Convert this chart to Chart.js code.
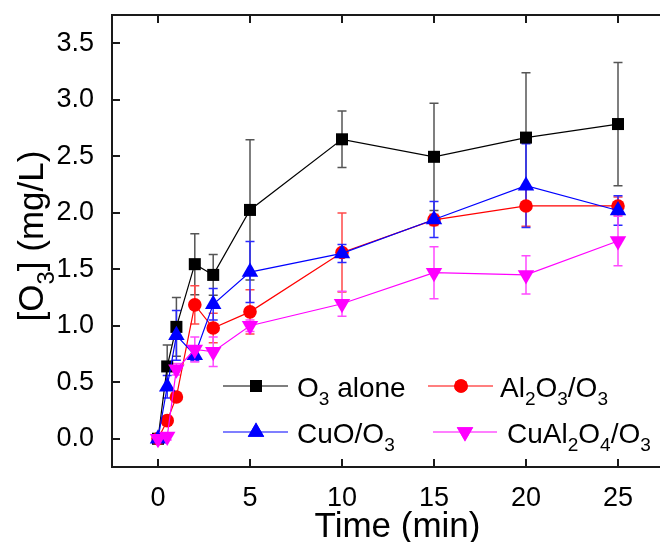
<!DOCTYPE html>
<html>
<head>
<meta charset="utf-8">
<script src="https://cdn.jsdelivr.net/npm/chart.js@4.4.1/dist/chart.umd.min.js"></script>
<style>
html,body{margin:0;padding:0;overflow:hidden;background:#fff;width:660px;height:542px;}
canvas{display:block;}
</style>
</head>
<body>
<canvas id="c" width="664" height="542"></canvas>
<script>
// ---- data ----
const times = [0, 0.5, 1, 2, 3, 5, 10, 15, 20, 25];

const o3Alone    = [0, 0.64, 0.99, 1.545, 1.45, 2.025, 2.65, 2.495, 2.665, 2.785];
const o3AloneErr = [0, 0.19, 0.26, 0.27, 0.18, 0.62, 0.25, 0.475, 0.575, 0.545];

const al2o3    = [0, 0.16, 0.37, 1.185, 0.98, 1.123, 1.648, 1.937, 2.06, 2.06];
const al2o3Err = [0, 0.04, 0.04, 0.17, 0.13, 0.195, 0.35, 0.05, 0.18, 0.08];

const cuo    = [0, 0.46, 0.915, 0.74, 1.19, 1.475, 1.64, 1.94, 2.24, 2.02];
const cuoErr = [0, 0.10, 0.22, 0.05, 0.14, 0.27, 0.08, 0.16, 0.37, 0.13];

const cual2o4    = [0, 0.02, 0.615, 0.79, 0.77, 1.0, 1.195, 1.47, 1.45, 1.75];
const cual2o4Err = [0, 0.03, 0.05, 0.11, 0.13, 0.05, 0.11, 0.23, 0.17, 0.22];

const xTicks = [0, 5, 10, 15, 20, 25];
const yTicks = [0, 0.5, 1.0, 1.5, 2.0, 2.5, 3.0, 3.5];

const xTitle = "Time (min)";
const yTitleParts = [["[O"], ["3", "sub"], ["] (mg/L)"]];
const legendParts = [
  [["O"], ["3", "sub"], [" alone"]],
  [["Al"], ["2", "sub"], ["O"], ["3", "sub"], ["/O"], ["3", "sub"]],
  [["CuO/O"], ["3", "sub"]],
  [["CuAl"], ["2", "sub"], ["O"], ["4", "sub"], ["/O"], ["3", "sub"]]
];

const FONT = "'Liberation Sans', Arial, Helvetica, sans-serif";

function pts(vals) { return times.map((t, i) => ({x: t, y: vals[i]})); }

const series = [
  {label: "O3 alone", data: pts(o3Alone), err: o3AloneErr, color: "#000000", errColor: "#555555", style: "rect", radius: 8.5, rot: 0, order: 3},
  {label: "Al2O3/O3", data: pts(al2o3), err: al2o3Err, color: "#ff0000", errColor: "#ff4a4a", style: "circle", radius: 6.8, rot: 0, order: 2},
  {label: "CuO/O3", data: pts(cuo), err: cuoErr, color: "#0000ff", errColor: "#2a2aff", style: "triangle", radius: 9.5, rot: 0, order: 1},
  {label: "CuAl2O4/O3", data: pts(cual2o4), err: cual2o4Err, color: "#ff00ff", errColor: "#ff4aff", style: "triangle", radius: 9.5, rot: 180, order: 0}
];

function drawRich(ctx, parts, x, y, size) {
  let cx = x;
  for (const p of parts) {
    const sub = p[1] === "sub";
    const fs = sub ? size * 0.68 : size;
    ctx.font = fs + "px " + FONT;
    ctx.fillText(p[0], cx, sub ? y + size * 0.32 : y);
    cx += ctx.measureText(p[0]).width;
  }
  return cx - x;
}
function richWidth(ctx, parts, size) {
  let w = 0;
  for (const p of parts) {
    const sub = p[1] === "sub";
    ctx.font = (sub ? size * 0.68 : size) + "px " + FONT;
    w += ctx.measureText(p[0]).width;
  }
  return w;
}

const errorBars = {
  id: "errorBars",
  beforeDatasetsDraw(chart) {
    const ctx = chart.ctx, xs = chart.scales.x, ys = chart.scales.y;
    ctx.save();
    ctx.lineWidth = 1.5;
    series.forEach((s) => {
      ctx.strokeStyle = s.errColor;
      s.data.forEach((p, i) => {
        const e = s.err[i];
        if (!e) return;
        const px = xs.getPixelForValue(p.x);
        const y1 = ys.getPixelForValue(p.y - e);
        const y2 = ys.getPixelForValue(p.y + e);
        ctx.beginPath();
        ctx.moveTo(px, y1); ctx.lineTo(px, y2);
        ctx.moveTo(px - 4.5, y1); ctx.lineTo(px + 4.5, y1);
        ctx.moveTo(px - 4.5, y2); ctx.lineTo(px + 4.5, y2);
        ctx.stroke();
      });
    });
    ctx.restore();
  }
};

const frame = {
  id: "frame",
  afterDraw(chart) {
    const ctx = chart.ctx, a = chart.chartArea, xs = chart.scales.x, ys = chart.scales.y;
    ctx.save();
    ctx.strokeStyle = "#1a1a1a";
    ctx.lineWidth = 2;
    ctx.strokeRect(a.left, a.top, a.right - a.left, a.bottom - a.top);
    ctx.beginPath();
    xTicks.forEach(v => {
      const px = Math.round(xs.getPixelForValue(v));
      ctx.moveTo(px, a.bottom); ctx.lineTo(px, a.bottom - 8);
      ctx.moveTo(px, a.top); ctx.lineTo(px, a.top + 8);
    });
    yTicks.forEach(v => {
      const py = Math.round(ys.getPixelForValue(v));
      ctx.moveTo(a.left, py); ctx.lineTo(a.left + 8, py);
    });
    ctx.stroke();

    // axis titles
    ctx.fillStyle = "#000";
    ctx.textBaseline = "alphabetic";
    ctx.textAlign = "left";
    ctx.font = "35px " + FONT;
    const tw = ctx.measureText(xTitle).width;
    ctx.fillText(xTitle, 397.5 - tw / 2, 537);

    ctx.save();
    ctx.translate(42.5, 236);
    ctx.rotate(-Math.PI / 2);
    const yw = richWidth(ctx, yTitleParts, 35);
    drawRich(ctx, yTitleParts, -yw / 2, 0, 35);
    ctx.restore();

    // legend
    const items = [
      {s: series[0], x1: 223, x2: 288, mx: 256, y: 386, tx: 297, parts: legendParts[0]},
      {s: series[1], x1: 428, x2: 493, mx: 461, y: 386, tx: 500, parts: legendParts[1]},
      {s: series[2], x1: 223, x2: 288, mx: 256, y: 432, tx: 297, parts: legendParts[2]},
      {s: series[3], x1: 433, x2: 497, mx: 465, y: 432, tx: 507, parts: legendParts[3]}
    ];
    items.forEach(it => {
      ctx.strokeStyle = it.s.color;
      ctx.lineWidth = 1.2;
      ctx.beginPath();
      ctx.moveTo(it.x1, it.y); ctx.lineTo(it.x2, it.y);
      ctx.stroke();
      ctx.fillStyle = it.s.color;
      Chart.helpers.drawPoint(ctx, {pointStyle: it.s.style, radius: it.s.radius, rotation: it.s.rot, borderWidth: 0}, it.mx, it.y);
      ctx.fill();
      ctx.fillStyle = "#000";
      drawRich(ctx, it.parts, it.tx, it.y + 10.5, 28);
    });
    ctx.restore();
  }
};

new Chart(document.getElementById("c"), {
  type: "line",
  data: {
    datasets: series.map(s => ({
      label: s.label,
      data: s.data,
      borderColor: s.color,
      backgroundColor: s.color,
      borderWidth: 1.2,
      tension: 0,
      pointStyle: s.style,
      pointRadius: s.radius,
      pointRotation: s.rot,
      pointBorderWidth: 0,
      pointBackgroundColor: s.color,
      pointBorderColor: s.color,
      order: s.order,
      clip: false
    }))
  },
  options: {
    responsive: false,
    animation: false,
    devicePixelRatio: 1,
    layout: {autoPadding: false, padding: {top: 15, right: 0, left: 0, bottom: 0}},
    plugins: {legend: {display: false}, tooltip: {enabled: false}},
    scales: {
      x: {
        type: "linear",
        min: -2.5, max: 27.5,
        grid: {display: false},
        border: {display: false},
        afterBuildTicks: s => { s.ticks = xTicks.map(v => ({value: v})); },
        afterFit: s => { s.height = 75; s.paddingLeft = 0; s.paddingRight = 0; },
        ticks: {color: "#000", font: {size: 27, family: FONT}, padding: 7, maxRotation: 0, autoSkip: false}
      },
      y: {
        type: "linear",
        min: -0.25, max: 3.75,
        grid: {display: false},
        border: {display: false},
        afterBuildTicks: s => { s.ticks = yTicks.map(v => ({value: v})); },
        afterFit: s => { s.width = 112; s.paddingTop = 0; s.paddingBottom = 0; },
        ticks: {color: "#000", font: {size: 27, family: FONT}, padding: 10, callback: v => Number(v).toFixed(1)}
      }
    }
  },
  plugins: [errorBars, frame]
});
</script>
</body>
</html>
